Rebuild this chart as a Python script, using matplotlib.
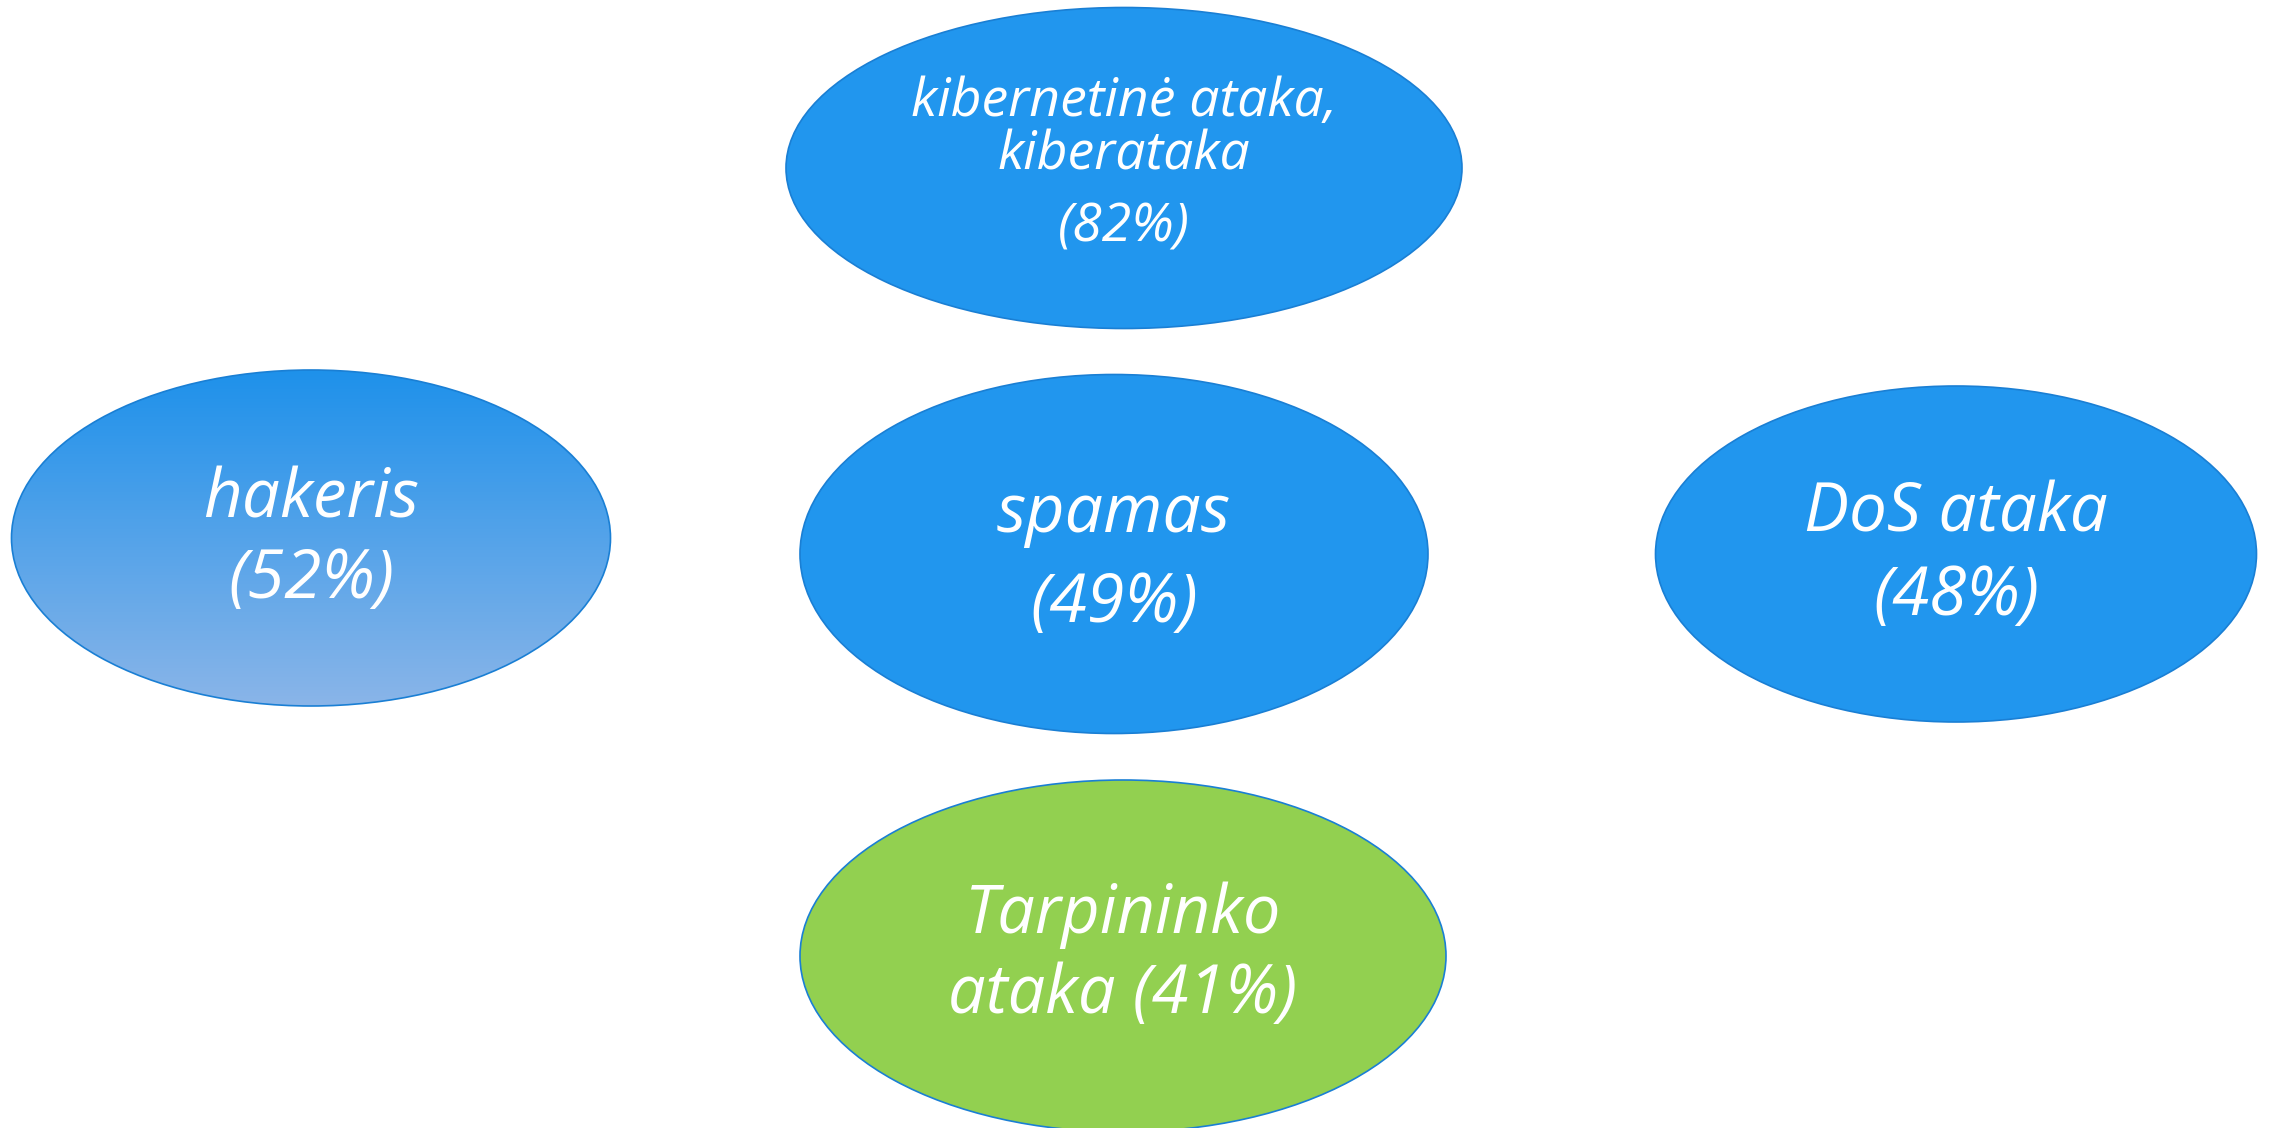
import matplotlib
matplotlib.use("Agg")
import matplotlib.pyplot as plt
import numpy as np
from matplotlib.patches import Ellipse

# ---- data ----
terms = ["kibernetinė ataka,\nkiberataka", "hakeris", "spamas", "DoS ataka", "Tarpininko\nataka"]
percents = [82, 52, 49, 48, 41]

# ---- layout (pixels, full-size canvas) ----
centers = [(1124, 168), (311, 538), (1114, 554), (1956, 554), (1123, 956)]
sizes = [(676, 321), (599, 336), (628, 359), (601, 336), (646, 352)]
fills = ["#2196EE", "gradient", "#2196EE", "#2196EE", "#92D050"]
fontsizes = [38.5, 48.5, 49, 48.5, 48]
# text baselines (y, pixels) for each line drawn in each ellipse
baselines = [(116, 169, 242), (517, 598), (532, 622), (532, 615), (933, 1013)]

W, H = 2269, 1128
fig = plt.figure(figsize=(W / 100, H / 100), dpi=100)
ax = fig.add_axes([0, 0, 1, 1])
ax.set_xlim(0, W)
ax.set_ylim(H, 0)
ax.axis("off")

FONT = "Open Sans"

for i, (term, pct) in enumerate(zip(terms, percents)):
    (cx, cy), (w, h) = centers[i], sizes[i]
    if fills[i] == "gradient":
        e = Ellipse((cx, cy), w, h, facecolor="none", edgecolor="#1A7FD4", lw=1.2, zorder=3)
        ax.add_patch(e)
        top = np.array([0x1E, 0x91, 0xEB]) / 255
        bot = np.array([0x8A, 0xB5, 0xE8]) / 255
        t = np.linspace(0, 1, 256)[:, None, None]
        grad = top * (1 - t) + bot * t
        grad = np.repeat(grad, 2, axis=1)
        im = ax.imshow(grad, extent=(cx - w / 2, cx + w / 2, cy + h / 2, cy - h / 2),
                       aspect="auto", zorder=2, interpolation="bilinear")
        im.set_clip_path(e)
    else:
        e = Ellipse((cx, cy), w, h, facecolor=fills[i], edgecolor="#1A7FD4", lw=1.2, zorder=2)
        ax.add_patch(e)

    parts = term.split("\n")
    if i == 4:
        lines = [parts[0], f"{parts[1]} ({pct}%)"]
    else:
        lines = parts + [f"({pct}%)"]
    for line, yb in zip(lines, baselines[i]):
        ax.text(cx, yb, line, ha="center", va="baseline", color="white",
                style="italic", family=FONT, fontsize=fontsizes[i], zorder=5)

fig.savefig("out.png", dpi=100, facecolor="white")
